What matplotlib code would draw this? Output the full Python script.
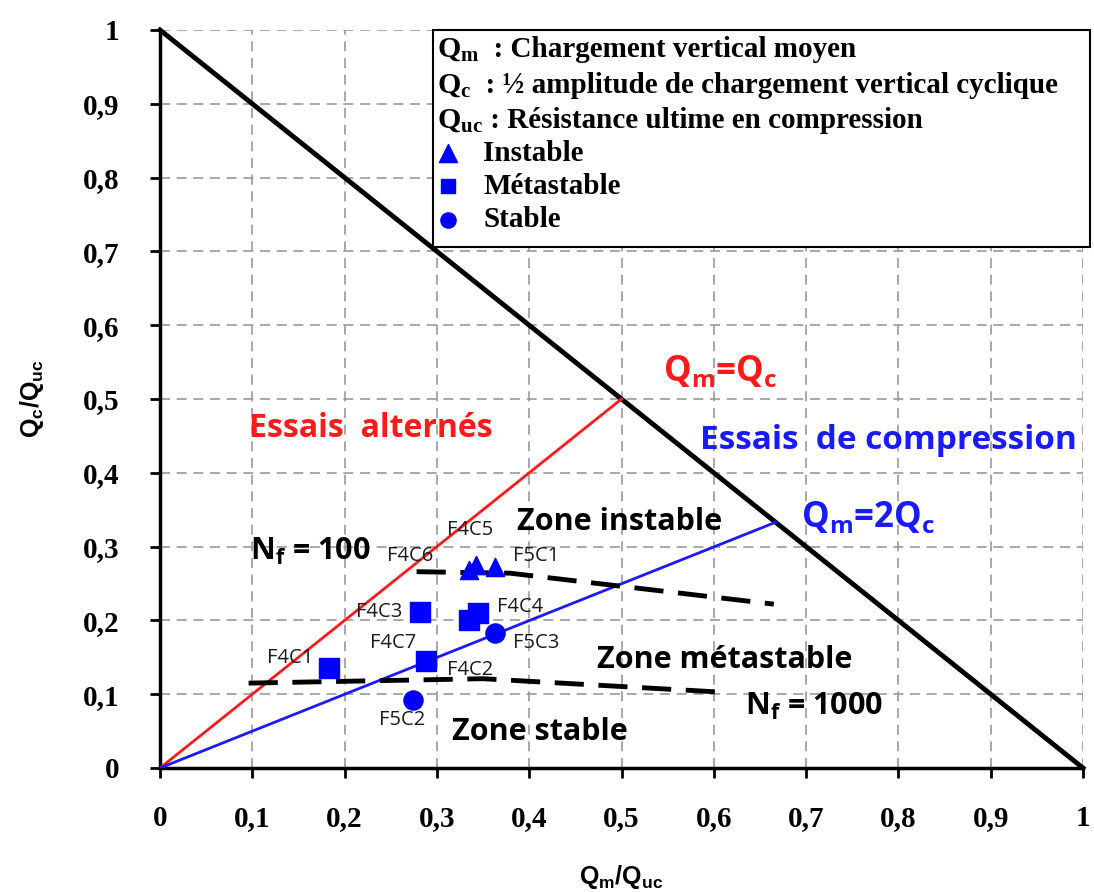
import matplotlib
matplotlib.use("Agg")
import matplotlib.pyplot as plt
from matplotlib.ticker import FuncFormatter
from matplotlib.patches import Rectangle

plt.rcParams['mathtext.fontset'] = 'custom'
plt.rcParams['mathtext.rm'] = 'Liberation Serif:bold'
plt.rcParams['mathtext.sf'] = 'Open Sans:bold'
plt.rcParams['mathtext.bf'] = 'Liberation Sans:bold'

# ---- data ----
instable_x = [0.335, 0.342, 0.363]
instable_y = [0.268, 0.275, 0.272]
metastable_x = [0.183, 0.288, 0.282, 0.335, 0.345]
metastable_y = [0.135, 0.145, 0.211, 0.201, 0.210]
stable_x = [0.363, 0.274]
stable_y = [0.183, 0.092]

labels = ["F4C5", "F4C6", "F5C1", "F4C3", "F4C4", "F4C7", "F4C2", "F5C3", "F4C1", "F5C2"]
label_x = [0.336, 0.271, 0.408, 0.238, 0.390, 0.253, 0.336, 0.408, 0.141, 0.262]
label_y = [0.322, 0.287, 0.287, 0.211, 0.218, 0.169, 0.133, 0.169, 0.149, 0.065]

limit_x = [0, 1]
limit_y = [1, 0]
alt_x = [0, 0.5]
alt_y = [0, 0.5]
comp_x = [0, 0.667]
comp_y = [0, 0.333]
nf100_x = [0.278, 0.379, 0.665]
nf100_y = [0.266, 0.264, 0.222]
nf1000_x = [0.096, 0.35, 0.605]
nf1000_y = [0.115, 0.121, 0.103]

ticks = [0, 0.1, 0.2, 0.3, 0.4, 0.5, 0.6, 0.7, 0.8, 0.9, 1]

fig = plt.figure(figsize=(10.94, 8.92), dpi=100)
ax = fig.add_axes([160/1094, 124/892, 923/1094, 738/892])
ax.set_xlim(0, 1)
ax.set_ylim(0, 1)

ax.grid(True, color='#999999', linestyle=(0, (6, 4)), linewidth=1.2)
ax.set_axisbelow(True)
ax.set_xticks(ticks)
ax.set_yticks(ticks)
fmt = FuncFormatter(lambda v, p: ('%g' % v).replace('.', ','))
ax.xaxis.set_major_formatter(fmt)
ax.yaxis.set_major_formatter(fmt)
for lab in ax.get_xticklabels() + ax.get_yticklabels():
    lab.set_fontfamily('Liberation Serif')
    lab.set_fontweight('bold')
    lab.set_fontsize(21)
ax.tick_params(direction='out', length=7, width=2)
ax.tick_params(axis='x', pad=20)
ax.tick_params(axis='y', pad=22)
for s in ['top', 'right']:
    ax.spines[s].set_visible(False)
for s in ['left', 'bottom']:
    ax.spines[s].set_linewidth(2.5)

ax.set_xlabel(r'$\mathbf{Q_m/Q_{uc}}$', fontsize=18, labelpad=22)
ax.set_ylabel(r'$\mathbf{Q_c/Q_{uc}}$', fontsize=18, labelpad=27)

ax.plot(limit_x, limit_y, color='black', lw=3.5, clip_on=False, zorder=3)
ax.plot(alt_x, alt_y, color='#ff1a1a', lw=2, zorder=3)
ax.plot(comp_x, comp_y, color='#1a1aff', lw=2, zorder=3)
ax.plot(nf100_x, nf100_y, color='black', lw=3.5, dashes=(6, 3), zorder=3)
ax.plot(nf1000_x, nf1000_y, color='black', lw=3.5, dashes=(6, 3), zorder=3)

ax.scatter(instable_x, instable_y, marker='^', s=170, color='#0000ff', zorder=5)
ax.scatter(metastable_x, metastable_y, marker='s', s=200, color='#0000ff', zorder=5)
ax.scatter(stable_x, stable_y, marker='o', s=190, color='#0000ff', zorder=5)

for t, x, y in zip(labels, label_x, label_y):
    ax.text(x, y, t, fontsize=14.5, family='Open Sans', fontweight='medium',
            color='#1a1a1a', ha='center', va='center', zorder=6)

sans = 'Open Sans'
ax.text(0.607, 0.537, r'$\mathsf{Q_m}$=$\mathsf{Q_c}$', color='#ff1a1a', fontsize=25,
        family=sans, fontweight='bold', ha='center', va='center')
ax.text(0.228, 0.460, 'Essais  alternés', color='#ff1a1a', fontsize=23,
        family=sans, fontweight='bold', ha='center', va='center')
ax.text(0.789, 0.444, 'Essais  de compression', color='#1a1aff', fontsize=24,
        family=sans, fontweight='bold', ha='center', va='center')
ax.text(0.694, 0.339, r'$\mathsf{Q_m}$=2$\mathsf{Q_c}$', color='#1a1aff', fontsize=25,
        family=sans, fontweight='bold', ha='left', va='center')
ax.text(0.498, 0.333, 'Zone instable', color='black', fontsize=22,
        family=sans, fontweight='bold', ha='center', va='center')
ax.text(0.612, 0.146, 'Zone métastable', color='black', fontsize=22,
        family=sans, fontweight='bold', ha='center', va='center')
ax.text(0.412, 0.049, 'Zone stable', color='black', fontsize=22,
        family=sans, fontweight='bold', ha='center', va='center')
ax.text(0.098, 0.293, r'$\mathsf{N_f}$ = 100', color='black', fontsize=22,
        family=sans, fontweight='bold', ha='left', va='center')
ax.text(0.634, 0.083, r'$\mathsf{N_f}$ = 1000', color='black', fontsize=22,
        family=sans, fontweight='bold', ha='left', va='center')

# legend box
ax.add_patch(Rectangle((0.296, 0.706), 0.712, 0.294, facecolor='white',
                       edgecolor='black', lw=1.5, zorder=7, clip_on=False))
serif = 'Liberation Serif'
leg_lines = [
    (r'$\mathrm{Q_m}$', '  : Chargement vertical moyen', 0.973),
    (r'$\mathrm{Q_c}$', '  : ½ amplitude de chargement vertical cyclique', 0.925),
    (r'$\mathrm{Q_{uc}}$', ' : Résistance ultime en compression', 0.878),
]
for q, txt, y in leg_lines:
    t1 = ax.text(0.300, y, q, fontsize=21.5, family=serif, fontweight='bold',
                 ha='left', va='center', zorder=8)
    ax.annotate(txt, xy=(1, 0.5), xycoords=t1, va='center', ha='left',
                fontsize=21, family=serif, fontweight='bold', zorder=8)
leg_marks = [('^', 'Instable', 0.833, 170), ('s', 'Métastable', 0.788, 110), ('o', 'Stable', 0.743, 120)]
for m, txt, y, s in leg_marks:
    ax.scatter([0.312], [y], marker=m, s=s, color='#0000ff', zorder=8, clip_on=False)
    ax.text(0.350, y, txt, fontsize=21, family=serif, fontweight='bold',
            ha='left', va='center', zorder=8)

fig.savefig('out.png', dpi=100)
